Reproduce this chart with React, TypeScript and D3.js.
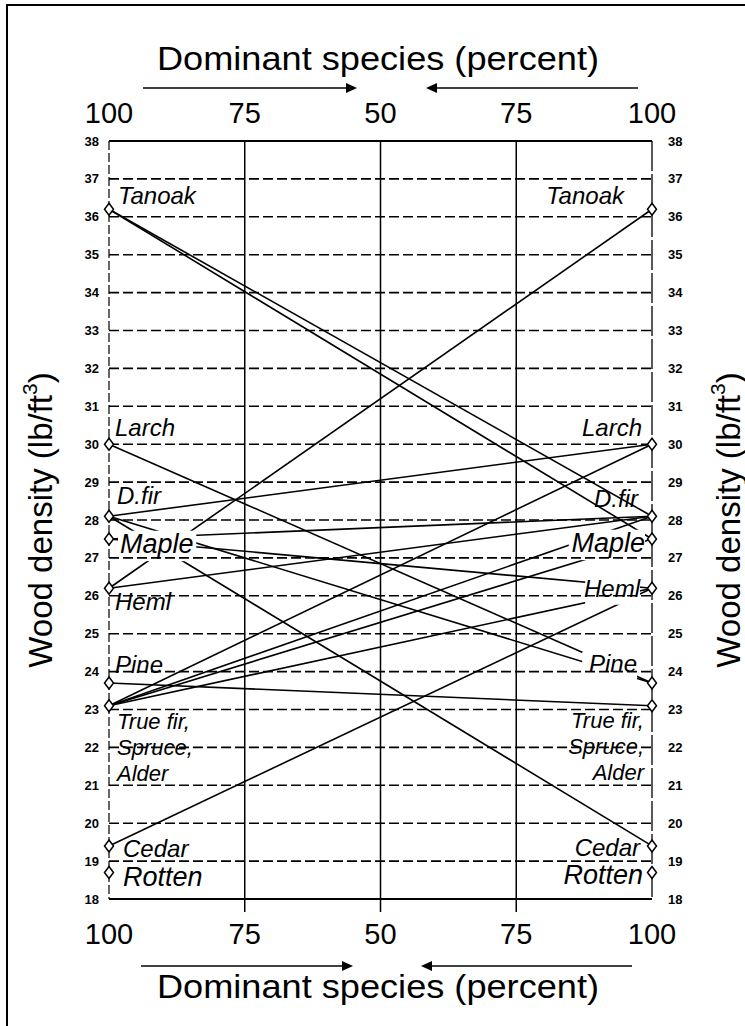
import React from "react";
import * as d3 from "d3";

// wood density of each species (lb/ft3), same on both sides of the nomograph
const species = ["Tanoak", "Larch", "D.fir", "Maple", "Heml", "Pine", "True fir", "Cedar", "Rotten"];
const density = [36.2, 30.0, 28.1, 27.5, 26.2, 23.7, 23.1, 19.4, 18.7];

// mixture lines: left species (100% at left) -> right species (100% at right)
const lineFrom = ["Tanoak", "Tanoak", "Larch", "D.fir", "D.fir", "D.fir", "Maple", "Maple", "Heml", "Heml", "Pine", "True fir", "True fir", "True fir", "True fir", "Cedar"];
const lineTo = ["D.fir", "Maple", "Pine", "Larch", "Pine", "Cedar", "D.fir", "Heml", "Tanoak", "D.fir", "True fir", "Larch", "D.fir", "Maple", "Heml", "Heml"];

const percentTicks = [100, 75, 50, 75, 100];
const percentPos = [0, 0.25, 0.5, 0.75, 1];
const densityTicks = d3.range(18, 39);

const labelText: Record<string, string[]> = {
  "True fir": ["True fir,", "Spruce,", "Alder"],
};

type Lab = { dx: number; dy: number; size?: number; knock?: boolean };
const labelLeft: Record<string, Lab> = {
  Tanoak: { dx: 9, dy: -5 },
  Larch: { dx: 6, dy: -8 },
  "D.fir": { dx: 8, dy: -12 },
  Maple: { dx: 11, dy: 14, size: 27, knock: true },
  Heml: { dx: 6, dy: 22 },
  Pine: { dx: 6, dy: -10 },
  "True fir": { dx: 8, dy: 23, size: 22 },
  Cedar: { dx: 14, dy: 11 },
  Rotten: { dx: 14, dy: 14, size: 27 },
};
const labelRight: Record<string, Lab> = {
  Tanoak: { dx: -28, dy: -5 },
  Larch: { dx: -10, dy: -8 },
  "D.fir": { dx: -14, dy: -9 },
  Maple: { dx: -7, dy: 13, size: 27, knock: true },
  Heml: { dx: -12, dy: 9, knock: true },
  Pine: { dx: -15, dy: -11, knock: true },
  "True fir": { dx: -8, dy: 22, size: 22 },
  Cedar: { dx: -12, dy: 10 },
  Rotten: { dx: -9, dy: 12, size: 27 },
};

const W = 745;
const H = 1026;
const left = 109;
const right = 652;
const top = 141;
const bottom = 899;
const font = "'Liberation Sans', Arial, Helvetica, sans-serif";
const lineGap = 26;

export default function App() {
  const x = d3.scaleLinear().domain([0, 1]).range([left, right]);
  const y = d3.scaleLinear().domain([18, 38]).range([bottom, top]);
  const dens = (s: string) => density[species.indexOf(s)];

  const diamond = (cx: number, cy: number) =>
    `M${cx},${cy - 6}L${cx + 4.5},${cy}L${cx},${cy + 6}L${cx - 4.5},${cy}Z`;

  const labels: { key: string; x: number; y: number; anchor: string; size: number; lines: string[]; knock: boolean }[] = [];
  species.forEach((s) => {
    const lines = labelText[s] || [s];
    const l = labelLeft[s];
    const r = labelRight[s];
    labels.push({ key: "L" + s, x: x(0) + l.dx, y: y(dens(s)) + l.dy, anchor: "start", size: l.size || 24, lines, knock: !!l.knock });
    labels.push({ key: "R" + s, x: x(1) + r.dx, y: y(dens(s)) + r.dy, anchor: "end", size: r.size || 24, lines, knock: !!r.knock });
  });

  const knockRects = labels
    .filter((d) => d.knock)
    .map((d) => {
      const w = d3.max(d.lines, (t) => t.length)! * d.size * 0.55;
      const x0 = d.anchor === "start" ? d.x - 2 : d.x - w - 2;
      const x1 = d.anchor === "start" ? d.x + w + 2 : d.x;
      return { key: d.key, x: x0, w: x1 - x0, y: d.y - d.size * 0.75 - 2, h: d.size * 0.98 + 4 };
    });

  const arrow = (x1: number, x2: number, yy: number) => {
    const dir = Math.sign(x2 - x1);
    return (
      <g>
        <line x1={x1} x2={x2 - dir * 9} y1={yy} y2={yy} stroke="#000" strokeWidth={1.6} />
        <path d={`M${x2},${yy}L${x2 - dir * 11},${yy - 5}L${x2 - dir * 11},${yy + 5}Z`} fill="#000" />
      </g>
    );
  };

  return (
    <svg width={W} height={H} style={{ position: "absolute", left: 0, top: 0, background: "#fff" }} fontFamily={font}>
      <defs>
        <mask id="knock" maskUnits="userSpaceOnUse" x={0} y={0} width={W} height={H}>
          <rect x={0} y={0} width={W} height={H} fill="#fff" />
          {knockRects.map((r) => (
            <rect key={r.key} x={r.x} y={r.y} width={r.w} height={r.h} fill="#000" />
          ))}
        </mask>
      </defs>

      {/* page frame */}
      <path d={`M7,${H}L7,5L${W},5`} fill="none" stroke="#000" strokeWidth={2} />

      {/* horizontal density grid */}
      {densityTicks.map((t) =>
        t === 18 || t === 38 ? (
          <line key={t} x1={left} x2={right} y1={y(t)} y2={y(t)} stroke="#000" strokeWidth={2} />
        ) : (
          <line key={t} x1={left} x2={right} y1={y(t)} y2={y(t)} stroke="#000" strokeWidth={1.6} strokeDasharray="10 4" />
        )
      )}

      {/* percent verticals */}
      {percentPos.slice(1, -1).map((p) => (
        <line key={p} x1={x(p)} x2={x(p)} y1={top} y2={bottom + 13} stroke="#000" strokeWidth={1.5} />
      ))}
      <line x1={left} x2={left} y1={top} y2={bottom} stroke="#000" strokeWidth={1.2} strokeDasharray="9 3" />
      <line x1={right} x2={right} y1={top} y2={bottom} stroke="#000" strokeWidth={1.3} strokeDasharray="30 3" />

      {/* density tick labels */}
      {densityTicks.map((t) => (
        <g key={t} fontSize={13} fontWeight="bold">
          <text x={left - 10} y={y(t)} textAnchor="end" dominantBaseline="central">{t}</text>
          <text x={right + 16} y={y(t)} textAnchor="start" dominantBaseline="central">{t}</text>
        </g>
      ))}

      {/* mixture lines */}
      <g mask="url(#knock)" stroke="#000" strokeWidth={1.6}>
        {lineFrom.map((f, i) => (
          <line key={i} x1={x(0)} y1={y(dens(f))} x2={x(1)} y2={y(dens(lineTo[i]))} />
        ))}
      </g>

      {/* species markers */}
      {species.map((s) => (
        <g key={s} fill="#fff" stroke="#000" strokeWidth={1.5}>
          <path d={diamond(x(0), y(dens(s)))} />
          <path d={diamond(x(1), y(dens(s)))} />
        </g>
      ))}

      {/* species labels */}
      {labels.map((d) =>
        d.lines.map((t, i) => (
          <text key={d.key + i} x={d.x} y={d.y + i * lineGap} textAnchor={d.anchor} fontSize={d.size} fontStyle="italic">
            {t}
          </text>
        ))
      )}

      {/* percent tick labels */}
      {percentTicks.map((t, i) => (
        <g key={i} fontSize={29} textAnchor="middle">
          <text x={x(percentPos[i])} y={123}>{t}</text>
          <text x={x(percentPos[i])} y={944}>{t}</text>
        </g>
      ))}

      {/* axis titles */}
      <text x={378} y={70} fontSize={34} textAnchor="middle" textLength={442} lengthAdjust="spacingAndGlyphs">Dominant species (percent)</text>
      <text x={378} y={998} fontSize={34} textAnchor="middle" textLength={442} lengthAdjust="spacingAndGlyphs">Dominant species (percent)</text>
      {arrow(143, 357, 88)}
      {arrow(638, 426, 88)}
      {arrow(141, 353, 966)}
      {arrow(632, 421, 966)}

      {[40, 728].map((cx) => (
        <text key={cx} transform={`translate(${cx},${(top + bottom) / 2}) rotate(-90)`} fontSize={33} textAnchor="middle" dominantBaseline="central">
          Wood density (lb/ft<tspan dy={-11} fontSize={21}>3</tspan><tspan dy={11}>)</tspan>
        </text>
      ))}
    </svg>
  );
}
